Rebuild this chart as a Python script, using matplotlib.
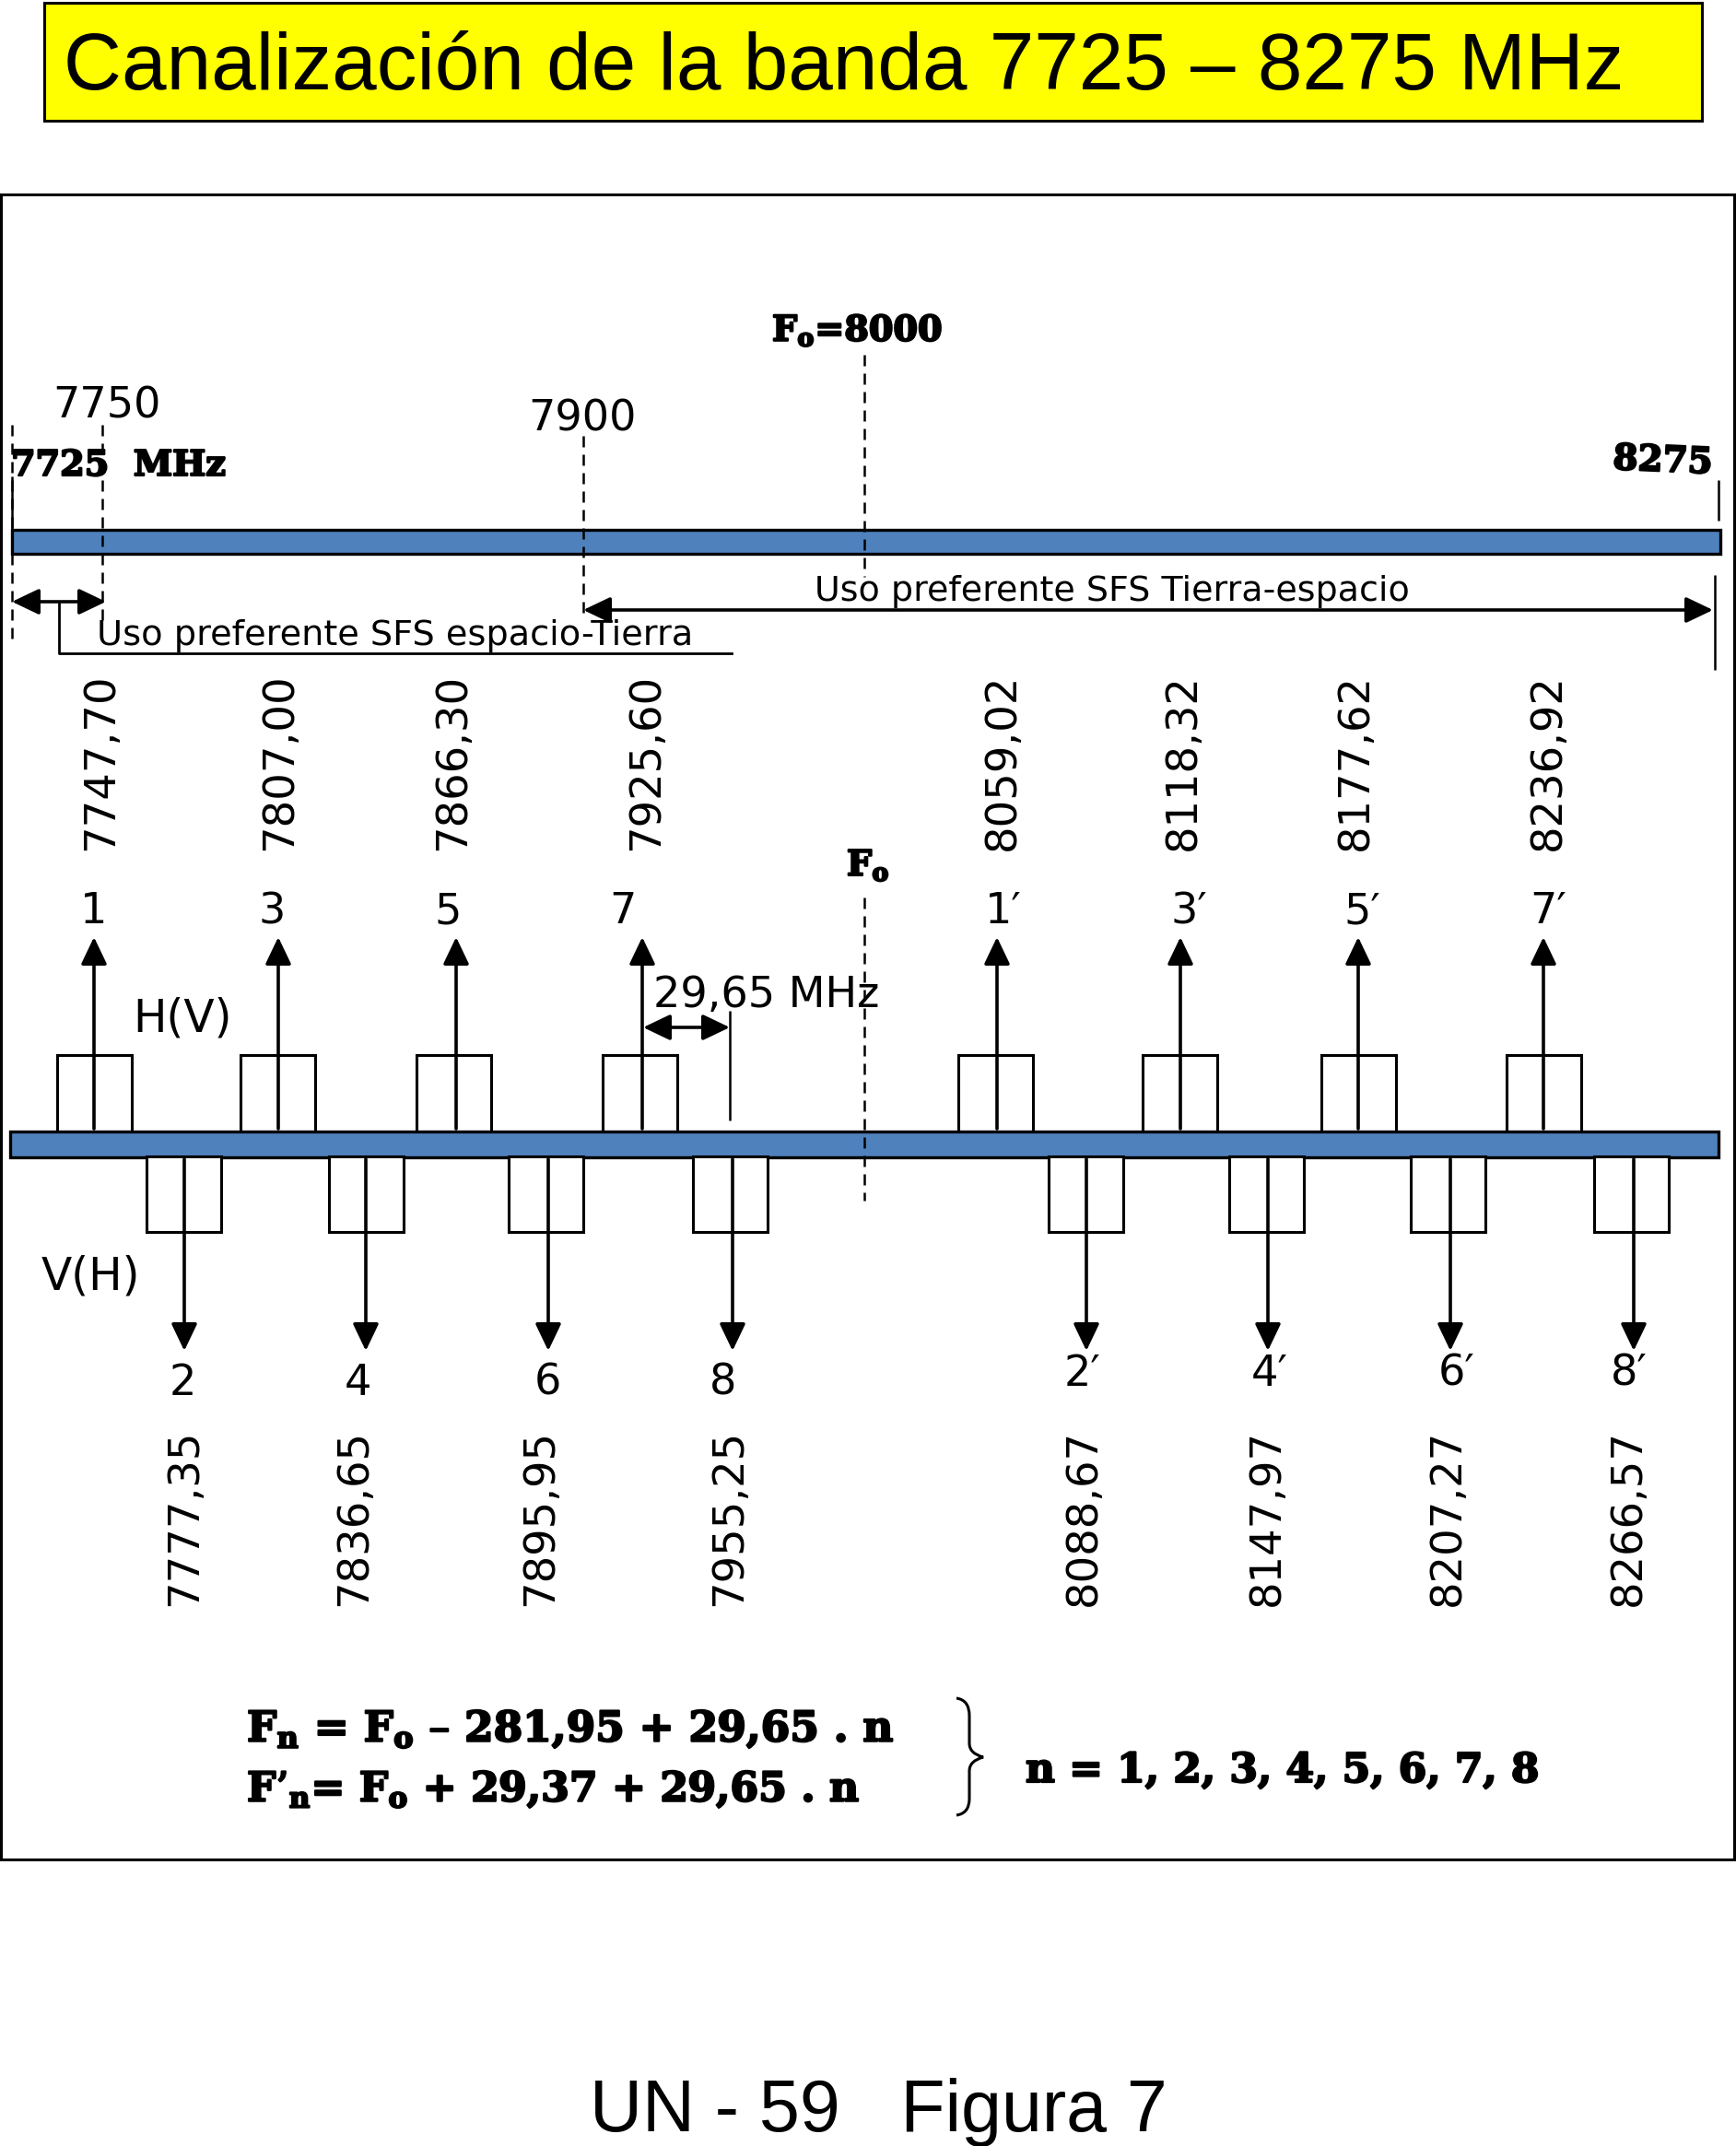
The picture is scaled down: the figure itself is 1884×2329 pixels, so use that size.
import matplotlib
matplotlib.use("Agg")
import matplotlib.pyplot as plt
import matplotlib.patheffects as pe
from matplotlib.patches import Rectangle, FancyArrowPatch, PathPatch
from matplotlib.path import Path

# Valores del plan de canales (MHz)
upper_channels = ["1", "3", "5", "7", "1′", "3′", "5′", "7′"]
upper_freqs = [7747.70, 7807.00, 7866.30, 7925.60, 8059.02, 8118.32, 8177.62, 8236.92]
lower_channels = ["2", "4", "6", "8", "2′", "4′", "6′", "8′"]
lower_freqs = [7777.35, 7836.65, 7895.95, 7955.25, 8088.67, 8147.97, 8207.27, 8266.57]

# Posiciones del esquema en pixeles (no esta a escala)
upper_box_x = [62, 261, 452, 654, 1040, 1240, 1434, 1635]
upper_arrow_x = [102, 302, 495, 697, 1082, 1281, 1474, 1675]
upper_label_x = [110, 304, 492, 702, 1088, 1284, 1471, 1680]
upper_num_x = [102, 295, 486, 676, 1089, 1290, 1478, 1680]
lower_box_x = [159, 357, 552, 752, 1138, 1334, 1531, 1730]
lower_arrow_x = [200, 397, 595, 795, 1179, 1376, 1574, 1773]
lower_label_x = [201, 385, 587, 792, 1176, 1375, 1571, 1767]
lower_num_x = [198, 388, 594, 785, 1175, 1378, 1581, 1768]
lower_num_y = [1501, 1501, 1501, 1501, 1491, 1491, 1491, 1491]
box_w = 81

BLUE = "#4F81BD"
SERIF = "DejaVu Serif"
SANS = "DejaVu Sans"
plt.rcParams["mathtext.fontset"] = "dejavuserif"
plt.rcParams["mathtext.default"] = "bf"

fig = plt.figure(figsize=(18.84, 23.29), dpi=100)
ax = fig.add_axes([0, 0, 1, 1])
ax.set_xlim(0, 1884)
ax.set_ylim(2329, 0)
ax.axis("off")


def arrow(x0, y0, x1, y1, style="-|>", lw=2.6):
    ax.add_patch(FancyArrowPatch((x0, y0), (x1, y1), mutation_scale=1,
                                 arrowstyle=f"{style},head_length=18,head_width=8.6",
                                 shrinkA=0, shrinkB=0, lw=lw, color="black", zorder=4))


def vline(x, y0, y1, dashed=False, lw=1.8, zorder=5):
    ax.plot([x, x], [y0, y1], color="black", lw=lw, zorder=zorder,
            dashes=(4.8, 3.2) if dashed else (None, None), solid_capstyle="butt")


def bold(x, y, s, size=27.5, **kw):
    # la fuente original es mucho mas negra, se engorda con un trazo
    ax.text(x, y, s, family=SERIF, weight="bold", fontsize=size, va="baseline",
            path_effects=[pe.withStroke(linewidth=1.6, foreground="black")], **kw)


# Titulo
ax.add_patch(Rectangle((48, 3), 1799, 128, fc="#FFFF00", ec="black", lw=2.2))
ax.text(69, 97, "Canalización de la banda 7725 – 8275 MHz", family="Liberation Sans",
        fontsize=62.8, va="baseline", color="black")

# Marco
ax.add_patch(Rectangle((1, 211), 1881, 1807, fc="white", ec="black", lw=2.2))

# Banda superior
ax.add_patch(Rectangle((13, 575), 1854, 26, fc=BLUE, ec="black", lw=2.4, zorder=3))
vline(13, 461, 700, dashed=True)
vline(111, 461, 677, dashed=True)
vline(633, 473, 673, dashed=True)
vline(937.5, 385, 626, dashed=True)
vline(13, 517, 575)
vline(1865, 521, 565)
vline(1861, 624, 727)

ax.text(57, 453, "7750", family=SANS, fontsize=33.3, va="baseline")
ax.text(573, 467, "7900", family=SANS, fontsize=33.3, va="baseline")
bold(12, 516, "7725  MHz")
bold(1750, 509, "8275", size=28, rotation=-2.5, rotation_mode="anchor")
bold(838, 370, "F$_{o}$=8000")

arrow(13, 653, 115, 653, "<|-|>")
arrow(633, 662, 1859, 662, "<|-|>")
ax.plot([64, 64, 794], [653, 709, 709], color="black", lw=2, zorder=2)
ax.text(105, 700, "Uso preferente SFS espacio-Tierra", family=SANS, fontsize=27.5, va="baseline")
ax.text(884, 652, "Uso preferente SFS Tierra-espacio", family=SANS, fontsize=27.4, va="baseline")

# Canales
ax.add_patch(Rectangle((11, 1228), 1854, 28, fc=BLUE, ec="black", lw=2.4, zorder=3))

for x, ax_x, lx, nx, f, n in zip(upper_box_x, upper_arrow_x, upper_label_x, upper_num_x,
                                 upper_freqs, upper_channels):
    ax.add_patch(Rectangle((x, 1145), box_w, 83, fc="white", ec="black", lw=2.2, zorder=2))
    arrow(ax_x, 1225, ax_x, 1017)
    ax.text(lx, 923, f"{f:.2f}".replace(".", ","), family=SANS, fontsize=33.5,
            rotation=90, ha="center", va="bottom")
    ax.text(nx, 990, n, family=SANS, fontsize=33.3, ha="center", va="center")

for x, ax_x, lx, nx, ny, f, n in zip(lower_box_x, lower_arrow_x, lower_label_x, lower_num_x,
                                     lower_num_y, lower_freqs, lower_channels):
    ax.add_patch(Rectangle((x, 1255), box_w, 82, fc="white", ec="black", lw=2.2, zorder=4))
    arrow(ax_x, 1258, ax_x, 1466)
    ax.text(lx, 1743, f"{f:.2f}".replace(".", ","), family=SANS, fontsize=33.5,
            rotation=90, ha="center", va="bottom")
    ax.text(nx, ny, n, family=SANS, fontsize=33.3, ha="center", va="center")

ax.text(198, 1105, "H(V)", family=SANS, fontsize=35, ha="center", va="center")
ax.text(98, 1385, "V(H)", family=SANS, fontsize=35, ha="center", va="center")

# Separacion y Fo
ax.text(709, 1093, "29,65 MHz", family=SANS, fontsize=33.2, va="baseline", zorder=6)
arrow(698, 1115, 792, 1115, "<|-|>")
vline(792, 1097, 1216)
vline(937.5, 974, 1303, dashed=True)
bold(919, 950, "F$_{o}$")

# Formulas
bold(268, 1890, "F$_{n}$ = F$_{o}$ – 281,95 + 29,65 . n", size=32.7)
bold(268, 1955, "F’$_{n}$= F$_{o}$ + 29,37 + 29,65 . n", size=31.8)
bold(1113, 1934, "n = 1, 2, 3, 4, 5, 6, 7, 8", size=31.6)

# Llave
brace = Path(
    [(1038, 1843), (1052, 1845), (1052, 1862), (1052, 1892), (1052, 1903), (1067, 1907),
     (1052, 1911), (1052, 1922), (1052, 1952), (1052, 1968), (1038, 1970)],
    [Path.MOVETO, Path.CURVE3, Path.CURVE3, Path.LINETO, Path.CURVE3, Path.CURVE3,
     Path.CURVE3, Path.CURVE3, Path.LINETO, Path.CURVE3, Path.CURVE3])
ax.add_patch(PathPatch(brace, fc="none", ec="black", lw=2.2))

# Pie
ax.text(640, 2313, "UN - 59   Figura 7", family="Liberation Sans", fontsize=56.8, va="baseline")

fig.savefig("out.png", dpi=100)
